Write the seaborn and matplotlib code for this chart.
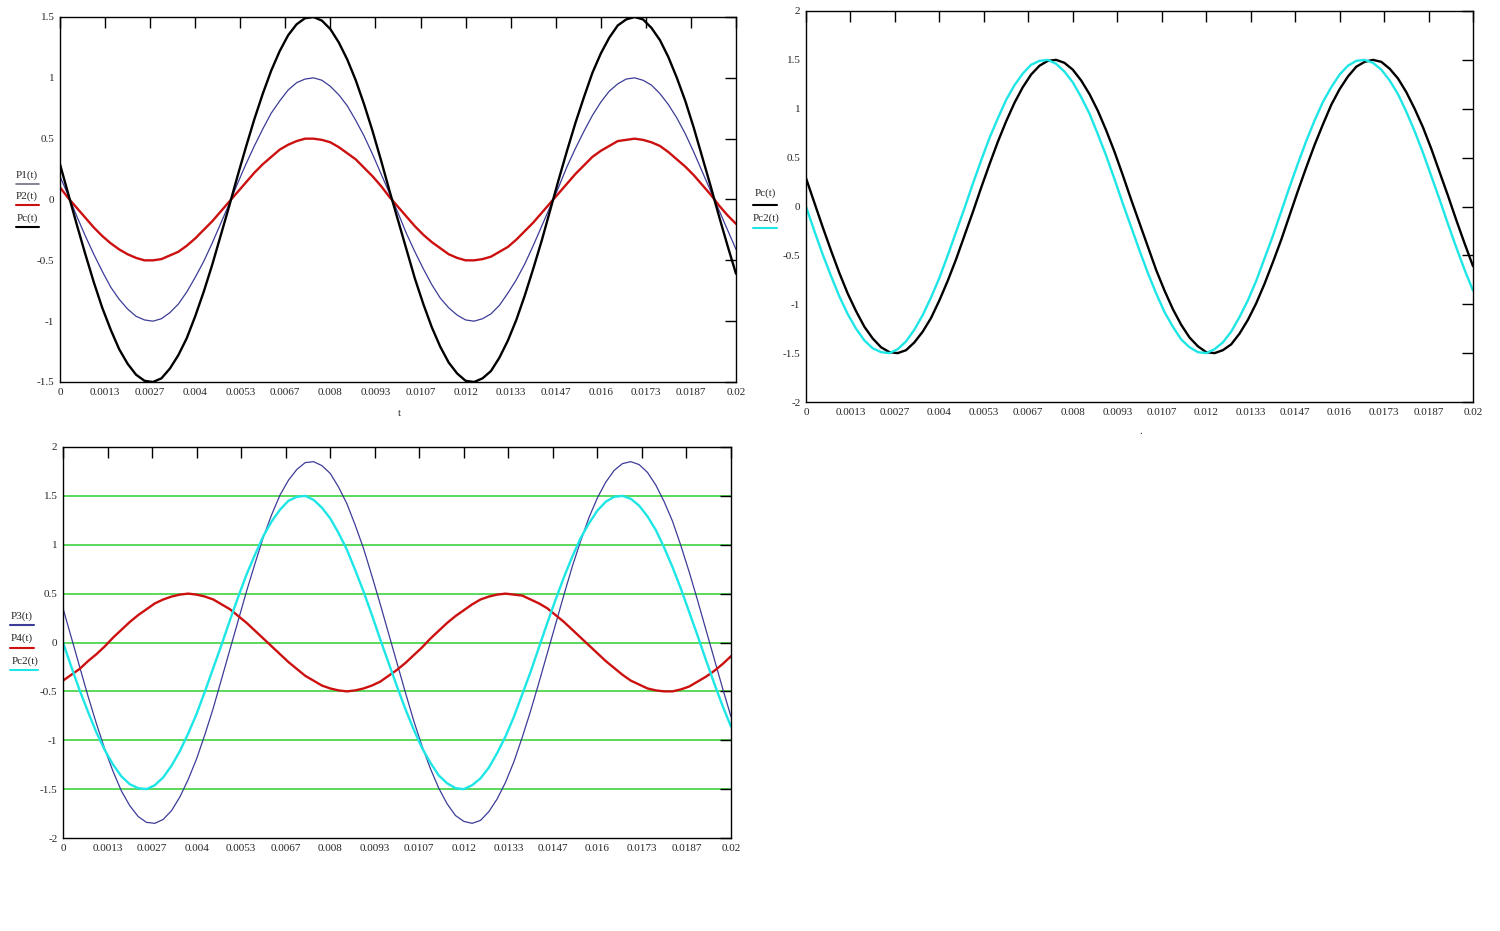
import matplotlib
matplotlib.use("Agg")
import matplotlib.pyplot as plt
from matplotlib.lines import Line2D
import seaborn as sns
import pandas as pd

# time samples (s), every 0.00025 s
t = [0.0, 0.00025, 0.0005, 0.00075, 0.001, 0.00125, 0.0015, 0.00175, 0.002, 0.00225,
     0.0025, 0.00275, 0.003, 0.00325, 0.0035, 0.00375, 0.004, 0.00425, 0.0045, 0.00475,
     0.005, 0.00525, 0.0055, 0.00575, 0.006, 0.00625, 0.0065, 0.00675, 0.007, 0.00725,
     0.0075, 0.00775, 0.008, 0.00825, 0.0085, 0.00875, 0.009, 0.00925, 0.0095, 0.00975,
     0.01, 0.01025, 0.0105, 0.01075, 0.011, 0.01125, 0.0115, 0.01175, 0.012, 0.01225,
     0.0125, 0.01275, 0.013, 0.01325, 0.0135, 0.01375, 0.014, 0.01425, 0.0145, 0.01475,
     0.015, 0.01525, 0.0155, 0.01575, 0.016, 0.01625, 0.0165, 0.01675, 0.017, 0.01725,
     0.0175, 0.01775, 0.018, 0.01825, 0.0185, 0.01875, 0.019, 0.01925, 0.0195, 0.01975,
     0.02]

P1 = [0.19, 0.03, -0.14, -0.30, -0.45, -0.59, -0.72, -0.82, -0.90, -0.96,
      -0.99, -1.00, -0.98, -0.93, -0.86, -0.76, -0.64, -0.51, -0.36, -0.20,
      -0.04, 0.13, 0.29, 0.44, 0.58, 0.71, 0.81, 0.90, 0.96, 0.99,
      1.00, 0.98, 0.93, 0.86, 0.77, 0.65, 0.52, 0.37, 0.21, 0.05,
      -0.11, -0.28, -0.43, -0.57, -0.70, -0.81, -0.89, -0.95, -0.99, -1.00,
      -0.98, -0.94, -0.87, -0.77, -0.66, -0.53, -0.38, -0.22, -0.06, 0.10,
      0.27, 0.42, 0.56, 0.69, 0.80, 0.89, 0.95, 0.99, 1.00, 0.98,
      0.94, 0.87, 0.78, 0.67, 0.54, 0.39, 0.23, 0.07, -0.09, -0.25,
      -0.41]
P2 = [0.10, 0.01, -0.07, -0.15, -0.23, -0.30, -0.36, -0.41, -0.45, -0.48,
      -0.50, -0.50, -0.49, -0.46, -0.43, -0.38, -0.32, -0.25, -0.18, -0.10,
      -0.02, 0.06, 0.14, 0.22, 0.29, 0.35, 0.41, 0.45, 0.48, 0.50,
      0.50, 0.49, 0.47, 0.43, 0.38, 0.33, 0.26, 0.19, 0.11, 0.02,
      -0.06, -0.14, -0.22, -0.29, -0.35, -0.40, -0.45, -0.48, -0.50, -0.50,
      -0.49, -0.47, -0.43, -0.39, -0.33, -0.26, -0.19, -0.11, -0.03, 0.05,
      0.13, 0.21, 0.28, 0.35, 0.40, 0.44, 0.48, 0.49, 0.50, 0.49,
      0.47, 0.44, 0.39, 0.33, 0.27, 0.20, 0.12, 0.04, -0.05, -0.13,
      -0.20]
Pc = [0.29, 0.04, -0.21, -0.45, -0.68, -0.89, -1.07, -1.23, -1.35, -1.44,
      -1.49, -1.50, -1.47, -1.39, -1.28, -1.14, -0.96, -0.76, -0.54, -0.30,
      -0.06, 0.19, 0.43, 0.66, 0.87, 1.06, 1.22, 1.35, 1.44, 1.49,
      1.50, 1.47, 1.40, 1.29, 1.15, 0.98, 0.78, 0.56, 0.32, 0.07,
      -0.17, -0.41, -0.65, -0.86, -1.05, -1.21, -1.34, -1.43, -1.49, -1.50,
      -1.47, -1.41, -1.30, -1.16, -0.99, -0.79, -0.57, -0.34, -0.09, 0.16,
      0.40, 0.63, 0.84, 1.04, 1.20, 1.33, 1.43, 1.48, 1.50, 1.48,
      1.41, 1.31, 1.17, 1.00, 0.81, 0.59, 0.35, 0.11, -0.14, -0.38,
      -0.61]
Pc2 = [0.0, -0.25, -0.49, -0.71, -0.92, -1.10, -1.25, -1.37, -1.45, -1.49,
       -1.50, -1.46, -1.38, -1.26, -1.11, -0.93, -0.73, -0.50, -0.26, -0.02,
       0.23, 0.47, 0.70, 0.90, 1.09, 1.24, 1.36, 1.45, 1.49, 1.50,
       1.46, 1.38, 1.27, 1.12, 0.95, 0.74, 0.52, 0.28, 0.03, -0.21,
       -0.45, -0.68, -0.89, -1.08, -1.23, -1.36, -1.44, -1.49, -1.50, -1.46,
       -1.39, -1.28, -1.13, -0.96, -0.76, -0.53, -0.30, -0.05, 0.20, 0.44,
       0.67, 0.88, 1.07, 1.22, 1.35, 1.44, 1.49, 1.50, 1.47, 1.40,
       1.29, 1.15, 0.97, 0.77, 0.55, 0.31, 0.07, -0.18, -0.42, -0.65,
       -0.86]
P3 = [0.35, 0.05, -0.25, -0.55, -0.83, -1.09, -1.32, -1.52, -1.67, -1.78,
      -1.84, -1.85, -1.81, -1.72, -1.58, -1.40, -1.19, -0.94, -0.67, -0.37,
      -0.07, 0.23, 0.53, 0.81, 1.08, 1.31, 1.51, 1.66, 1.77, 1.84,
      1.85, 1.81, 1.73, 1.59, 1.42, 1.20, 0.96, 0.68, 0.39, 0.09,
      -0.21, -0.51, -0.80, -1.06, -1.29, -1.49, -1.65, -1.77, -1.83, -1.85,
      -1.82, -1.73, -1.60, -1.43, -1.22, -0.97, -0.70, -0.41, -0.11, 0.19,
      0.49, 0.78, 1.04, 1.28, 1.48, 1.64, 1.76, 1.83, 1.85, 1.82,
      1.74, 1.61, 1.44, 1.24, 0.99, 0.72, 0.43, 0.13, -0.17, -0.47,
      -0.76]
P4 = [-0.39, -0.33, -0.27, -0.19, -0.12, -0.04, 0.05, 0.13, 0.21, 0.28,
      0.34, 0.40, 0.44, 0.47, 0.49, 0.50, 0.49, 0.47, 0.44, 0.39,
      0.34, 0.27, 0.20, 0.12, 0.04, -0.04, -0.12, -0.20, -0.27, -0.34,
      -0.39, -0.44, -0.47, -0.49, -0.50, -0.49, -0.47, -0.44, -0.40, -0.34,
      -0.28, -0.21, -0.13, -0.05, 0.04, 0.12, 0.20, 0.27, 0.33, 0.39,
      0.44, 0.47, 0.49, 0.50, 0.49, 0.48, 0.44, 0.40, 0.35, 0.28,
      0.21, 0.13, 0.05, -0.03, -0.11, -0.19, -0.26, -0.33, -0.39, -0.43,
      -0.47, -0.49, -0.50, -0.50, -0.48, -0.45, -0.40, -0.35, -0.29, -0.22,
      -0.14]

x_ticks = [0, 0.0013333, 0.0026667, 0.004, 0.0053333, 0.0066667, 0.008, 0.0093333,
           0.0106667, 0.012, 0.0133333, 0.0146667, 0.016, 0.0173333, 0.0186667, 0.02]
x_labels = ["0", "0.0013", "0.0027", "0.004", "0.0053", "0.0067", "0.008", "0.0093",
            "0.0107", "0.012", "0.0133", "0.0147", "0.016", "0.0173", "0.0187", "0.02"]
y_ticks_a = [-1.5, -1, -0.5, 0, 0.5, 1, 1.5]
y_labels_a = ["-1.5", "-1", "-0.5", "0", "0.5", "1", "1.5"]
y_ticks_b = [-2, -1.5, -1, -0.5, 0, 0.5, 1, 1.5, 2]
y_labels_b = ["-2", "-1.5", "-1", "-0.5", "0", "0.5", "1", "1.5", "2"]
grid_levels = [-1.5, -1, -0.5, 0, 0.5, 1, 1.5]

NAVY = "#3c3c98"
RED = "#cc1010"
CYAN = "#1ee6e6"
BLACK = "#000000"
GREEN = "#3fd23f"

sns.set_style("white")
plt.rcParams["font.family"] = ["Liberation Serif", "DejaVu Serif"]

W, H = 1500, 931
fig = plt.figure(figsize=(15, 9.31), dpi=100)


def box(l, t_, r, b):
    return [l / W, 1 - b / H, (r - l) / W, (b - t_) / H]


def style_axes(ax, ylim, yt, yl):
    ax.set_xlim(0, 0.02)
    ax.set_ylim(*ylim)
    ax.set_xticks(x_ticks)
    ax.set_xticklabels(x_labels)
    ax.set_yticks(yt)
    ax.set_yticklabels(yl)
    ax.tick_params(direction="in", top=True, right=True, length=8, width=1,
                   labelsize=8, pad=4, color="black")
    ax.set_xlabel("")
    ax.set_ylabel("")
    for s in ax.spines.values():
        s.set_color("black")
        s.set_linewidth(1)


def legend_entry(x, y, label, color, x0, x1, ly, lw=1.5):
    fig.text(x / W, 1 - y / H, label, fontsize=8, ha="center", va="center")
    fig.add_artist(Line2D([x0 / W, x1 / W], [1 - ly / H, 1 - ly / H],
                          transform=fig.transFigure, color=color, linewidth=lw))


# panel 1
ax1 = fig.add_axes(box(60, 17, 736, 382))
df1 = pd.DataFrame({"t": t, "P1": P1, "P2": P2, "Pc": Pc})
sns.lineplot(data=df1, x="t", y="P1", ax=ax1, color=NAVY, linewidth=0.9)
sns.lineplot(data=df1, x="t", y="P2", ax=ax1, color=RED, linewidth=1.7)
sns.lineplot(data=df1, x="t", y="Pc", ax=ax1, color=BLACK, linewidth=1.7)
style_axes(ax1, (-1.5, 1.5), y_ticks_a, y_labels_a)
fig.text(399 / W, 1 - 414 / H, "t", fontsize=8, ha="center", va="center")
legend_entry(27, 175, "P1(t)", "#707080", 16, 39, 184, 1.2)
legend_entry(27, 196, "P2(t)", RED, 16, 39, 205)
legend_entry(27, 218, "Pc(t)", BLACK, 16, 39, 227)

# panel 2
ax2 = fig.add_axes(box(806, 11, 1473, 402))
df2 = pd.DataFrame({"t": t, "Pc": Pc, "Pc2": Pc2})
sns.lineplot(data=df2, x="t", y="Pc", ax=ax2, color=BLACK, linewidth=1.7)
sns.lineplot(data=df2, x="t", y="Pc2", ax=ax2, color=CYAN, linewidth=1.7)
style_axes(ax2, (-2, 2), y_ticks_b, y_labels_b)
fig.text(1141 / W, 1 - 432 / H, ".", fontsize=8, ha="center", va="center")
legend_entry(765, 193, "Pc(t)", BLACK, 753, 777, 205)
legend_entry(766, 218, "Pc2(t)", CYAN, 753, 777, 228)

# panel 3
ax3 = fig.add_axes(box(63, 447, 731, 838))
for g in grid_levels:
    ax3.axhline(g, color=GREEN, linewidth=1.2, zorder=0)
df3 = pd.DataFrame({"t": t, "P3": P3, "P4": P4, "Pc2": Pc2})
sns.lineplot(data=df3, x="t", y="P3", ax=ax3, color=NAVY, linewidth=0.9)
sns.lineplot(data=df3, x="t", y="P4", ax=ax3, color=RED, linewidth=1.7)
sns.lineplot(data=df3, x="t", y="Pc2", ax=ax3, color=CYAN, linewidth=1.7)
style_axes(ax3, (-2, 2), y_ticks_b, y_labels_b)
legend_entry(22, 616, "P3(t)", NAVY, 10, 34, 625)
legend_entry(22, 638, "P4(t)", RED, 10, 34, 648)
legend_entry(25, 661, "Pc2(t)", CYAN, 10, 38, 670)

fig.savefig("out.png", dpi=100, facecolor="white")
